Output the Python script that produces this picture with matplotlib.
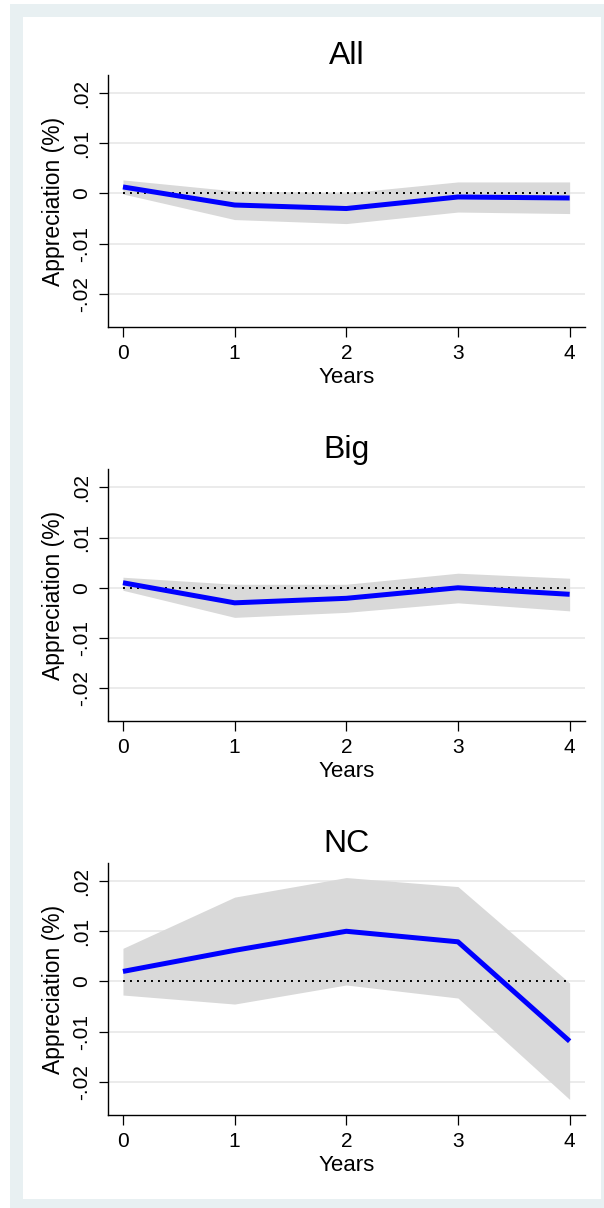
import matplotlib
matplotlib.use("Agg")
import matplotlib.pyplot as plt
from matplotlib.patches import Rectangle

plt.rcParams['font.family'] = ['Liberation Sans', 'DejaVu Sans']

years = [0, 1, 2, 3, 4]
titles = ["All", "Big", "NC"]

all_est = [0.0013, -0.0023, -0.0030, -0.0007, -0.0009]
all_hi = [0.0027, 0.0005, 0.0001, 0.0023, 0.0023]
all_lo = [-0.0001, -0.0052, -0.0060, -0.0037, -0.0040]

big_est = [0.0010, -0.0030, -0.0021, 0.0000, -0.0013]
big_hi = [0.0021, 0.0007, 0.0007, 0.0029, 0.0019]
big_lo = [-0.0005, -0.0059, -0.0049, -0.0030, -0.0046]

nc_est = [0.0020, 0.0062, 0.0100, 0.0079, -0.0119]
nc_hi = [0.0066, 0.0168, 0.0207, 0.0189, -0.0003]
nc_lo = [-0.0027, -0.0045, -0.0007, -0.0033, -0.0235]

yticks = [-0.02, -0.01, 0.0, 0.01, 0.02]
ytick_labels = ["-.02", "-.01", "0", ".01", ".02"]

series = [(all_est, all_hi, all_lo), (big_est, big_hi, big_lo), (nc_est, nc_hi, nc_lo)]

W, H = 604, 1208
fig = plt.figure(figsize=(W / 100, H / 100), dpi=100)
fig.patch.set_facecolor("white")

# outer frame (light bluish) and inner white region
fig.patches.append(Rectangle((10 / W, 0), 1 - 10 / W, 1 - 4 / H, transform=fig.transFigure,
                             facecolor="#E8F0F2", edgecolor="none", zorder=-10))
fig.patches.append(Rectangle((22.7 / W, 1 - 1199 / H), (600.7 - 22.7) / W, (1199 - 16.7) / H,
                             transform=fig.transFigure, facecolor="white", edgecolor="none", zorder=-9))

left = 108 / W
width = (584.6 - 108) / W
tops = [75, 469.3, 863]
ax_h = 252

for i, (title, (est, hi, lo)) in enumerate(zip(titles, series)):
    top = tops[i]
    ax = fig.add_axes([left, 1 - (top + ax_h) / H, width, ax_h / H])
    ax.set_facecolor("none")
    ax.fill_between(years, lo, hi, color="#D9D9D9", linewidth=0, zorder=2)
    ax.plot([years[0], years[-1]], [0, 0], color="black", linestyle=(0, (1, 2.6)),
            linewidth=1.4, zorder=3)
    ax.plot(years, est, color="#0000FF", linewidth=3.6, zorder=4, solid_capstyle="butt")
    ax.set_xlim(-0.134, 4.134)
    ax.set_ylim(-0.0266, 0.0236)
    ax.set_yticks(yticks)
    ax.set_yticklabels(ytick_labels, rotation=90, va="center")
    ax.set_xticks(years)
    ax.set_xticklabels([str(y) for y in years])
    ax.yaxis.grid(True, color="#E6E6E6", linewidth=1.1, zorder=1)
    ax.set_axisbelow(True)
    for s in ["top", "right"]:
        ax.spines[s].set_visible(False)
    for s in ["left", "bottom"]:
        ax.spines[s].set_linewidth(1.0)
        ax.spines[s].set_color("black")
    ax.tick_params(axis="x", length=7, width=0.9, pad=5, labelsize=15)
    ax.tick_params(axis="y", length=6.5, width=0.9, pad=6, labelsize=15)
    ax.set_xlabel("Years", fontsize=16, labelpad=3)
    ax.set_ylabel("Appreciation (%)", fontsize=16.5, labelpad=5)
    ax.set_title(title, fontsize=23, pad=8)

fig.savefig("out.png", dpi=100, facecolor=fig.get_facecolor())
